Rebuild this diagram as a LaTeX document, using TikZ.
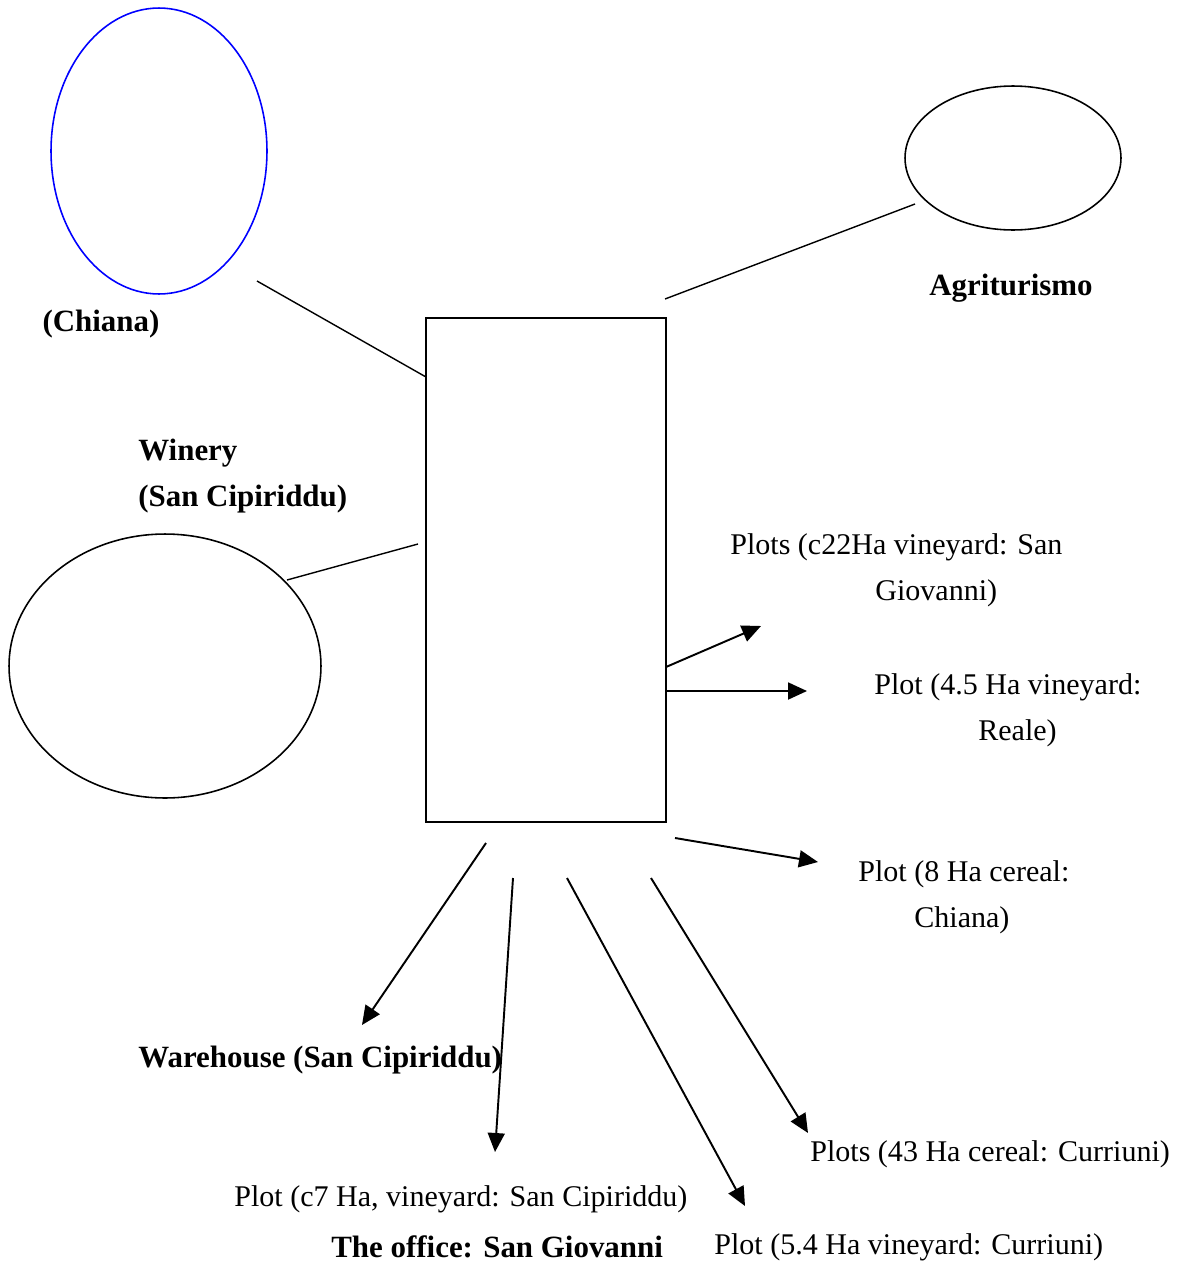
\documentclass[tikz,border=0pt]{standalone}
\usepackage{fontspec}
\setmainfont{Liberation Serif}
\usetikzlibrary{shapes.geometric,arrows.meta}
\begin{document}
\begin{tikzpicture}[
    x=0.02cm, y=-0.02cm,
    site/.style={ellipse, draw, line width=0.9pt, inner sep=0pt},
    hubbox/.style={rectangle, draw, line width=0.9pt, minimum width=4.8cm, minimum height=10.08cm, inner sep=0pt},
    lbl/.style={font=\fontsize{17.1}{26.2}\selectfont, inner sep=0pt, align=left},
    blbl/.style={lbl, font=\fontsize{17.6}{26.2}\selectfont\bfseries},
    link/.style={line width=0.8pt},
    arrow/.style={->, >={Triangle[length=0.38cm,width=0.34cm]}, line width=1.1pt},
]
\useasboundingbox (0,0) rectangle (1187,1265);
% sites
\node[site, draw=blue, minimum width=4.32cm, minimum height=5.72cm] (chiana) at (159,151) {};
\node[site, minimum width=4.32cm, minimum height=2.88cm] (agri) at (1013,158) {};
\node[site, minimum width=6.24cm, minimum height=5.28cm] (winery) at (165,666) {};
\node[hubbox] (hub) at (546,570) {};
% labels
\node[blbl] (chianalbl) at (101,324) {(Chiana)};
\node[blbl] (agrilbl) at (1011,288) {Agriturismo};
\node[blbl, anchor=west] (winerylbl) at (138,476) {Winery\\(San Cipiriddu)};
\node[lbl, anchor=west] (sangiov) at (730,570) {Plots (c22Ha vineyard: San\\\hspace*{2.9cm}Giovanni)};
\node[lbl, anchor=west] (reale) at (874,710) {Plot (4.5 Ha vineyard:\\\hspace*{2.08cm}Reale)};
\node[lbl, anchor=west] (cereal) at (858,897) {Plot (8 Ha cereal:\\\hspace*{1.12cm}Chiana)};
\node[blbl, anchor=west] (warehouse) at (138,1060) {Warehouse (San Cipiriddu)};
\node[lbl, anchor=west] (cipiriddu) at (234,1199) {Plot (c7 Ha, vineyard: San Cipiriddu)};
\node[blbl, anchor=west] (office) at (331,1247) {The office: San Giovanni};
\node[lbl, anchor=west] (curr43) at (810,1154) {Plots (43 Ha cereal: Curriuni)};
\node[lbl, anchor=west] (curr54) at (714,1247) {Plot (5.4 Ha vineyard: Curriuni)};
% connector ends
\coordinate (c1) at (257,281);
\coordinate (c2) at (426,377);
\coordinate (a1) at (665,299);
\coordinate (a2) at (915,204);
\coordinate (w1) at (287,580);
\coordinate (w2) at (418,544);
\coordinate (p1) at (666,667);
\coordinate (p2) at (761,626);
\coordinate (r1) at (666,691);
\coordinate (r2) at (807,691);
\coordinate (k1) at (675,838);
\coordinate (k2) at (818,862);
\coordinate (h1) at (486,843);
\coordinate (h2) at (362,1025);
\coordinate (s1) at (513,878);
\coordinate (s2) at (495,1152);
\coordinate (v1) at (567,878);
\coordinate (v2) at (745,1206);
\coordinate (u1) at (651,878);
\coordinate (u2) at (808,1133);
% links
\draw[link] (c1) -- (c2);
\draw[link] (a1) -- (a2);
\draw[link] (w1) -- (w2);
\draw[arrow] (p1) -- (p2);
\draw[arrow] (r1) -- (r2);
\draw[arrow] (k1) -- (k2);
\draw[arrow] (h1) -- (h2);
\draw[arrow] (s1) -- (s2);
\draw[arrow] (v1) -- (v2);
\draw[arrow] (u1) -- (u2);
\end{tikzpicture}
\end{document}
